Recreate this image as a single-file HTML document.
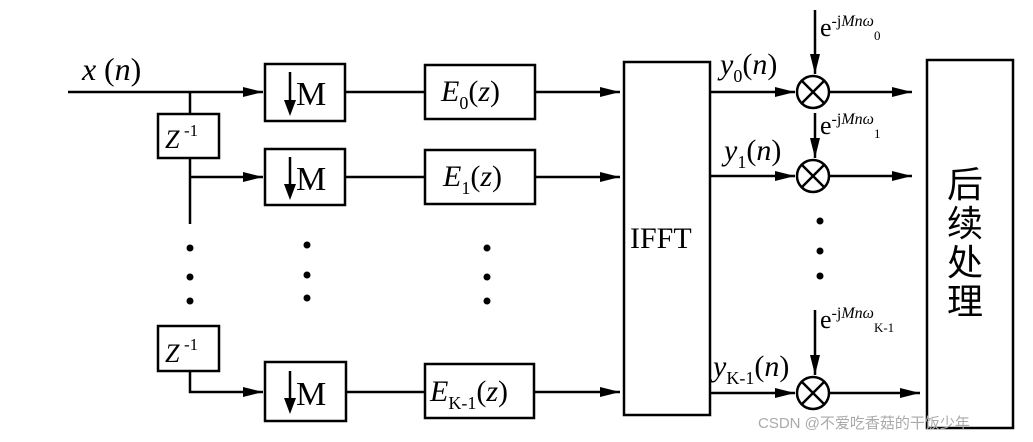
<!DOCTYPE html>
<html><head><meta charset="utf-8"><style>
body{margin:0;background:#fff;}
svg{display:block;}
text{font-family:"Liberation Serif",serif;fill:#000;}
.cjk{font-family:"Liberation Serif","Noto Serif CJK SC","Noto Sans CJK SC",serif;}
</style></head><body>
<svg width="1033" height="442" viewBox="0 0 1033 442" xmlns="http://www.w3.org/2000/svg">
<defs>
<marker id="a" markerWidth="20" markerHeight="10" refX="20" refY="5" orient="auto" markerUnits="userSpaceOnUse">
<path d="M0,0 L20,5 L0,10 Z" fill="#000"/></marker>
</defs>
<g stroke="#000" stroke-width="2.5" fill="none">
<line x1="68" y1="92" x2="263" y2="92" marker-end="url(#a)"/>
<line x1="190" y1="92" x2="190" y2="114"/>
<rect x="158" y="114" width="61" height="44"/>
<line x1="190" y1="158" x2="190" y2="224"/>
<line x1="190" y1="177" x2="263" y2="177" marker-end="url(#a)"/>
<rect x="158" y="326" width="61" height="45"/>
<polyline points="190,371 190,392 263,392" marker-end="url(#a)"/>
<rect x="265" y="64" width="80" height="57"/>
<rect x="265" y="149" width="80" height="56"/>
<rect x="265" y="362" width="81" height="59"/>
<line x1="345" y1="92" x2="425" y2="92"/>
<line x1="345" y1="177" x2="425" y2="177"/>
<line x1="346" y1="392" x2="425" y2="392"/>
<rect x="425" y="65" width="110" height="54"/>
<rect x="425" y="150" width="110" height="54"/>
<rect x="425" y="364" width="109" height="54"/>
<line x1="535" y1="92" x2="620" y2="92" marker-end="url(#a)"/>
<line x1="535" y1="177" x2="620" y2="177" marker-end="url(#a)"/>
<line x1="534" y1="392" x2="620" y2="392" marker-end="url(#a)"/>
<rect x="624" y="62" width="86" height="353"/>
<line x1="710" y1="92" x2="795" y2="92" marker-end="url(#a)"/>
<line x1="710" y1="176" x2="795" y2="176" marker-end="url(#a)"/>
<line x1="710" y1="393" x2="795" y2="393" marker-end="url(#a)"/>
<g>
<circle cx="813" cy="92" r="16"/><line x1="802" y1="81" x2="824" y2="103"/><line x1="824" y1="81" x2="802" y2="103"/>
<circle cx="813" cy="176" r="16"/><line x1="802" y1="165" x2="824" y2="187"/><line x1="824" y1="165" x2="802" y2="187"/>
<circle cx="813" cy="393" r="16"/><line x1="802" y1="382" x2="824" y2="404"/><line x1="824" y1="382" x2="802" y2="404"/>
</g>
<line x1="815" y1="10" x2="815" y2="74" marker-end="url(#a)"/>
<line x1="815" y1="113" x2="815" y2="158" marker-end="url(#a)"/>
<line x1="815" y1="310" x2="815" y2="375" marker-end="url(#a)"/>
<line x1="829" y1="92" x2="912" y2="92" marker-end="url(#a)"/>
<line x1="829" y1="176" x2="912" y2="176" marker-end="url(#a)"/>
<line x1="829" y1="393" x2="920" y2="393" marker-end="url(#a)"/>
<rect x="927" y="60" width="86" height="368"/>
</g>
<g fill="#000">
<circle cx="190" cy="248" r="3.5"/><circle cx="190" cy="277" r="3.5"/><circle cx="190" cy="301" r="3.5"/>
<circle cx="307" cy="245" r="3.5"/><circle cx="307" cy="275" r="3.5"/><circle cx="307" cy="298" r="3.5"/>
<circle cx="487" cy="248" r="3.5"/><circle cx="487" cy="277" r="3.5"/><circle cx="487" cy="301" r="3.5"/>
<circle cx="820" cy="221" r="3.5"/><circle cx="820" cy="251" r="3.5"/><circle cx="820" cy="276" r="3.5"/>
</g>
<g stroke="#000" stroke-width="2.5"><line x1="290" y1="72" x2="290" y2="104"/><line x1="290" y1="157" x2="290" y2="188"/><line x1="290" y1="371" x2="290" y2="402"/></g>
<g fill="#000"><path d="M284,100 L296,100 L290,116Z"/><path d="M284,184 L296,184 L290,200Z"/><path d="M284,398 L296,398 L290,414Z"/></g>
<g font-size="34">
<text x="296" y="105">M</text><text x="296" y="190">M</text><text x="296" y="405">M</text>
</g>
<text x="82" y="80" font-size="32" font-style="italic">x</text><text x="104" y="80" font-size="32">(<tspan font-style="italic">n</tspan>)</text>
<text x="165" y="148" font-size="26" font-style="italic">Z</text><text x="184" y="136" font-size="17">-1</text>
<text x="165" y="362" font-size="26" font-style="italic">Z</text><text x="184" y="350" font-size="17">-1</text>
<text x="441" y="101" font-size="30"><tspan font-style="italic">E</tspan><tspan font-size="18" dy="8">0</tspan><tspan dy="-8">(</tspan><tspan font-style="italic">z</tspan>)</text>
<text x="443" y="186" font-size="30"><tspan font-style="italic">E</tspan><tspan font-size="18" dy="8">1</tspan><tspan dy="-8">(</tspan><tspan font-style="italic">z</tspan>)</text>
<text x="430" y="401" font-size="30"><tspan font-style="italic">E</tspan><tspan font-size="18" dy="8">K-1</tspan><tspan dy="-8">(</tspan><tspan font-style="italic">z</tspan>)</text>
<text x="630" y="248" font-size="30">IFFT</text>
<text x="720" y="74" font-size="30"><tspan font-style="italic">y</tspan><tspan font-size="18" dy="8">0</tspan><tspan dy="-8">(</tspan><tspan font-style="italic">n</tspan>)</text>
<text x="724" y="160" font-size="30"><tspan font-style="italic">y</tspan><tspan font-size="18" dy="8">1</tspan><tspan dy="-8">(</tspan><tspan font-style="italic">n</tspan>)</text>
<text x="713" y="376" font-size="30"><tspan font-style="italic">y</tspan><tspan font-size="18" dy="8">K-1</tspan><tspan dy="-8">(</tspan><tspan font-style="italic">n</tspan>)</text>
<text x="820" y="36" font-size="26">e<tspan font-size="16" dy="-10">-j</tspan><tspan font-size="16" font-style="italic">Mnω</tspan><tspan font-size="13" dy="14" letter-spacing="-1">0</tspan></text>
<text x="820" y="134" font-size="26">e<tspan font-size="16" dy="-10">-j</tspan><tspan font-size="16" font-style="italic">Mnω</tspan><tspan font-size="13" dy="14">1</tspan></text>
<text x="820" y="328" font-size="26">e<tspan font-size="16" dy="-10">-j</tspan><tspan font-size="16" font-style="italic">Mnω</tspan><tspan font-size="13" dy="14">K-1</tspan></text>
<g class="cjk" font-size="36">
<text x="947" y="197">后</text><text x="947" y="236">续</text><text x="947" y="275">处</text><text x="947" y="314">理</text>
</g>
<text x="758" y="428" font-size="15" style="font-family:'Liberation Sans','Noto Sans CJK SC',sans-serif;fill:#aaa">CSDN @不爱吃香菇的干饭少年</text>
</svg>
</body></html>
